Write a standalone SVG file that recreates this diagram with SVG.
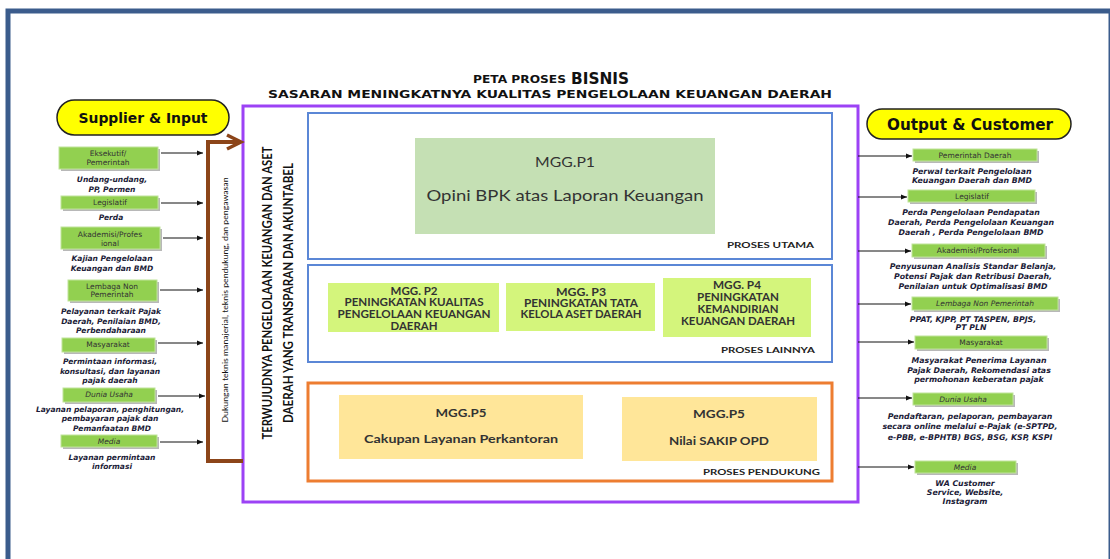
<svg xmlns="http://www.w3.org/2000/svg" width="1110" height="559" viewBox="0 0 1110 559">
<defs>
<style>
.t{font-family:"DejaVu Sans","Liberation Sans",sans-serif;text-anchor:middle;dominant-baseline:central}
.lbl{font-size:7.5px;fill:#333}
.it{font-style:italic}
.desc{font-size:7.5px;font-weight:bold;font-style:italic;fill:#1c1c38}
.descr{font-size:7.8px;font-weight:bold;font-style:italic;fill:#1c1c38}
.c{font-family:Lato,"Open Sans",sans-serif;text-anchor:middle;dominant-baseline:central;fill:#333}
.cap{font-size:10.5px;font-weight:bold}
.ps{font-size:8px;font-weight:bold;fill:#222;text-anchor:end}
.gb{fill:#92d050;stroke:#bfe39a;stroke-width:1}
.sh{fill:#9a9a9a;opacity:0.7}
.yl{fill:#ffff00;stroke:#222;stroke-width:1.5}
.conn{stroke:#111;stroke-width:1;fill:none;marker-end:url(#ah)}
</style>
<marker id="ah" markerWidth="6" markerHeight="6" refX="6" refY="3" orient="auto" markerUnits="userSpaceOnUse">
<path d="M0,0.5 L6,3 L0,5.5 z" fill="#111"/>
</marker>
</defs>
<rect width="1110" height="559" fill="#fff"/>
<rect x="8" y="11" width="1103" height="570" fill="none" stroke="#3b5c8c" stroke-width="5"/>

<g id="title">
<text x="551" y="79" class="t" style="font-weight:bold;fill:#111"><tspan font-size="10" textLength="93" lengthAdjust="spacingAndGlyphs">PETA PROSES</tspan><tspan dx="5" font-size="15" textLength="58" lengthAdjust="spacingAndGlyphs">BISNIS</tspan></text>
<text x="550" y="94" class="t" style="font-weight:bold;font-size:11px;fill:#111" textLength="564" lengthAdjust="spacingAndGlyphs">SASARAN MENINGKATNYA  KUALITAS  PENGELOLAAN  KEUANGAN DAERAH</text>
</g>

<g id="supplier-input">
<rect x="57" y="100" width="172" height="35" rx="17.5" class="yl"/>
<text x="143" y="118" class="t" style="font-weight:bold;font-size:14px;fill:#111" textLength="129" lengthAdjust="spacingAndGlyphs">Supplier &amp; Input</text>
</g>
<g id="output-customer">
<rect x="867" y="109" width="204" height="30" rx="15" class="yl"/>
<text x="970" y="124" class="t" style="font-weight:bold;font-size:16px;fill:#111" textLength="166" lengthAdjust="spacingAndGlyphs">Output &amp; Customer</text>
</g>

<g id="main-frame">
<rect x="243" y="106" width="615" height="396" fill="#fff" stroke="#9c42f5" stroke-width="3"/>
<text class="c" transform="translate(266,293) rotate(-90)" style="font-weight:bold;font-size:14px;fill:#111" textLength="293" lengthAdjust="spacingAndGlyphs">TERWUJUDNYA PENGELOLAAN KEUANGAN DAN ASET</text>
<text class="c" transform="translate(287,293) rotate(-90)" style="font-weight:bold;font-size:14px;fill:#111" textLength="260" lengthAdjust="spacingAndGlyphs">DAERAH YANG TRANSPARAN DAN AKUNTABEL</text>
</g>

<g id="support-bracket">
<path d="M243,461 L208,461 L208,142 L240,142" fill="none" stroke="#8c4519" stroke-width="4"/>
<polyline points="227,135 241,142 227,149" fill="none" stroke="#8c4519" stroke-width="3.5"/>
<text class="c" transform="translate(225,300) rotate(-90)" style="font-size:7.5px;fill:#111" textLength="245" lengthAdjust="spacingAndGlyphs">Dukungan teknis manajerial, teknis pendukung, dan pengawasan</text>
</g>

<g id="proses-utama">
<rect x="308" y="113" width="524" height="146" fill="none" stroke="#5b87d6" stroke-width="2"/>
<text x="814" y="245" class="c ps" textLength="87" lengthAdjust="spacingAndGlyphs">PROSES UTAMA</text>
</g>
<g id="mgg-p1">
<rect x="415" y="138" width="300" height="96" fill="#c5e0b4"/>
<text x="565" y="161" class="c" style="font-size:14px" textLength="60" lengthAdjust="spacingAndGlyphs">MGG.P1</text>
<text x="565" y="194" class="c" style="font-size:16px" textLength="277" lengthAdjust="spacingAndGlyphs">Opini BPK atas Laporan Keuangan</text>
</g>

<g id="proses-lainnya">
<rect x="308" y="265" width="524" height="97" fill="none" stroke="#5b87d6" stroke-width="2"/>
<text x="815" y="350" class="c ps" textLength="94" lengthAdjust="spacingAndGlyphs">PROSES LAINNYA</text>
</g>
<g id="mgg-p2">
<rect x="328" y="283" width="171" height="49" fill="#d4f57c"/>
<text x="414" y="291" class="c cap" textLength="47" lengthAdjust="spacingAndGlyphs">MGG. P2</text>
<text x="414" y="302" class="c cap" textLength="139" lengthAdjust="spacingAndGlyphs">PENINGKATAN  KUALITAS</text>
<text x="414" y="314" class="c cap" textLength="153" lengthAdjust="spacingAndGlyphs">PENGELOLAAN  KEUANGAN</text>
<text x="414" y="326" class="c cap" textLength="47" lengthAdjust="spacingAndGlyphs">DAERAH</text>
</g>
<g id="mgg-p3">
<rect x="506" y="283" width="149" height="48" fill="#d4f57c"/>
<text x="581" y="292" class="c cap" textLength="50" lengthAdjust="spacingAndGlyphs">MGG. P3</text>
<text x="581" y="303" class="c cap" textLength="114" lengthAdjust="spacingAndGlyphs">PENINGKATAN TATA</text>
<text x="581" y="314" class="c cap" textLength="121" lengthAdjust="spacingAndGlyphs">KELOLA ASET DAERAH</text>
</g>
<g id="mgg-p4">
<rect x="663" y="278" width="148" height="59" fill="#d4f57c"/>
<text x="737" y="285" class="c cap" textLength="48" lengthAdjust="spacingAndGlyphs">MGG. P4</text>
<text x="738" y="297" class="c cap" textLength="82" lengthAdjust="spacingAndGlyphs">PENINGKATAN</text>
<text x="738" y="309" class="c cap" textLength="81" lengthAdjust="spacingAndGlyphs">KEMANDIRIAN</text>
<text x="738" y="321" class="c cap" textLength="114" lengthAdjust="spacingAndGlyphs">KEUANGAN DAERAH</text>
</g>

<g id="proses-pendukung">
<rect x="308" y="383" width="524" height="98" fill="none" stroke="#ed7d31" stroke-width="3"/>
<text x="820" y="472" class="c ps" textLength="117" lengthAdjust="spacingAndGlyphs">PROSES PENDUKUNG</text>
</g>
<g id="mgg-p5a">
<rect x="339" y="395" width="244" height="64" fill="#ffe699"/>
<text x="461" y="412" class="c" style="font-size:12px;font-weight:bold" textLength="51" lengthAdjust="spacingAndGlyphs">MGG.P5</text>
<text x="461" y="438" class="c" style="font-size:12px;font-weight:bold" textLength="194" lengthAdjust="spacingAndGlyphs">Cakupan Layanan Perkantoran</text>
</g>
<g id="mgg-p5b">
<rect x="622" y="397" width="195" height="64" fill="#ffe699"/>
<text x="719" y="413" class="c" style="font-size:12px;font-weight:bold" textLength="52" lengthAdjust="spacingAndGlyphs">MGG.P5</text>
<text x="719" y="440" class="c" style="font-size:12px;font-weight:bold" textLength="100" lengthAdjust="spacingAndGlyphs">Nilai SAKIP OPD</text>
</g>

<!-- Left inputs -->
<g id="in-eksekutif">
<rect x="61" y="149" width="99" height="22" class="sh"/>
<rect x="59" y="147" width="99" height="22" class="gb"/>
<text x="108" y="153" class="t lbl">Eksekutif/</text>
<text x="108" y="162" class="t lbl">Pemerintah</text>
<text x="112" y="179" class="t desc">Undang-undang,</text>
<text x="112" y="189" class="t desc">PP, Permen</text>
</g>
<g id="in-legislatif">
<rect x="63" y="198" width="97" height="13" class="sh"/>
<rect x="61" y="196" width="97" height="13" class="gb"/>
<text x="110" y="202.5" class="t lbl">Legislatif</text>
<text x="111" y="217" class="t desc">Perda</text>
</g>
<g id="in-akademisi">
<rect x="63" y="229" width="99" height="22" class="sh"/>
<rect x="61" y="227" width="99" height="22" class="gb"/>
<text x="110" y="234" class="t lbl">Akademisi/Profes</text>
<text x="110" y="243" class="t lbl">ional</text>
<text x="112" y="258" class="t desc">Kajian Pengelolaan</text>
<text x="112" y="268" class="t desc">Keuangan dan BMD</text>
</g>
<g id="in-lembaga">
<rect x="70" y="282" width="89" height="21" class="sh"/>
<rect x="68" y="280" width="89" height="21" class="gb"/>
<text x="112" y="286" class="t lbl">Lembaga Non</text>
<text x="112" y="294.5" class="t lbl">Pemerintah</text>
<text x="111" y="311" class="t desc">Pelayanan terkait Pajak</text>
<text x="111" y="321" class="t desc">Daerah, Penilaian BMD,</text>
<text x="111" y="330" class="t desc">Perbendaharaan</text>
</g>
<g id="in-masyarakat">
<rect x="64" y="340" width="93" height="14" class="sh"/>
<rect x="62" y="338" width="93" height="14" class="gb"/>
<text x="108" y="344.5" class="t lbl">Masyarakat</text>
<text x="110" y="361" class="t desc">Permintaan  informasi,</text>
<text x="110" y="371" class="t desc">konsultasi, dan layanan</text>
<text x="110" y="380" class="t desc">pajak daerah</text>
</g>
<g id="in-dunia-usaha">
<rect x="65" y="390" width="92" height="14" class="sh"/>
<rect x="63" y="388" width="92" height="14" class="gb"/>
<text x="109" y="394.5" class="t lbl it">Dunia Usaha</text>
<text x="110" y="409" class="t desc">Layanan pelaporan, penghitungan,</text>
<text x="110" y="418" class="t desc">pembayaran pajak dan</text>
<text x="112" y="428" class="t desc">Pemanfaatan BMD</text>
</g>
<g id="in-media">
<rect x="63" y="437" width="96" height="12" class="sh"/>
<rect x="61" y="435" width="96" height="12" class="gb"/>
<text x="109" y="441" class="t lbl it">Media</text>
<text x="112" y="457" class="t desc">Layanan permintaan</text>
<text x="112" y="466" class="t desc">informasi</text>
</g>

<!-- Right outputs -->
<g id="out-pemda">
<rect x="915" y="151" width="124" height="12" class="sh"/>
<rect x="913" y="149" width="124" height="12" class="gb"/>
<text x="975" y="155" class="t lbl">Pemerintah Daerah</text>
<text x="972" y="171" class="t descr">Perwal terkait Pengelolaan</text>
<text x="972" y="180" class="t descr">Keuangan Daerah dan BMD</text>
</g>
<g id="out-legislatif">
<rect x="910" y="192" width="127" height="12" class="sh"/>
<rect x="908" y="190" width="127" height="12" class="gb"/>
<text x="972" y="196" class="t lbl">Legislatif</text>
<text x="971" y="212" class="t descr">Perda Pengelolaan Pendapatan</text>
<text x="971" y="222" class="t descr">Daerah, Perda Pengelolaan Keuangan</text>
<text x="971" y="232" class="t descr">Daerah , Perda Pengelolaan BMD</text>
</g>
<g id="out-akademisi">
<rect x="914" y="246" width="133" height="13" class="sh"/>
<rect x="912" y="244" width="133" height="13" class="gb"/>
<text x="978" y="250.5" class="t lbl">Akademisi/Profesional</text>
<text x="973" y="266" class="t descr">Penyusunan Analisis Standar Belanja,</text>
<text x="973" y="276" class="t descr">Potensi Pajak dan Retribusi Daerah,</text>
<text x="973" y="286" class="t descr">Penilaian untuk Optimalisasi BMD</text>
</g>
<g id="out-lembaga">
<rect x="914" y="299" width="146" height="13" class="sh"/>
<rect x="912" y="297" width="146" height="13" class="gb"/>
<text x="985" y="303.5" class="t lbl it">Lembaga Non Pemerintah</text>
<text x="973" y="319" class="t descr">PPAT, KJPP, PT TASPEN, BPJS,</text>
<text x="971" y="327" class="t descr">PT PLN</text>
</g>
<g id="out-masyarakat">
<rect x="917" y="338" width="132" height="13" class="sh"/>
<rect x="915" y="336" width="132" height="13" class="gb"/>
<text x="981" y="342.5" class="t lbl">Masyarakat</text>
<text x="979" y="360" class="t descr">Masyarakat Penerima Layanan</text>
<text x="979" y="370" class="t descr">Pajak Daerah, Rekomendasi atas</text>
<text x="979" y="379" class="t descr">permohonan keberatan pajak</text>
</g>
<g id="out-dunia-usaha">
<rect x="915" y="395" width="100" height="12" class="sh"/>
<rect x="913" y="393" width="100" height="12" class="gb"/>
<text x="963" y="399" class="t lbl it">Dunia Usaha</text>
<text x="970" y="416" class="t descr">Pendaftaran, pelaporan, pembayaran</text>
<text x="970" y="426" class="t descr">secara online melalui e-Pajak (e-SPTPD,</text>
<text x="970" y="437" class="t descr">e-PBB, e-BPHTB) BGS, BSG, KSP, KSPI</text>
</g>
<g id="out-media">
<rect x="917" y="463" width="101" height="12" class="sh"/>
<rect x="915" y="461" width="101" height="12" class="gb"/>
<text x="965" y="467" class="t lbl it">Media</text>
<text x="965" y="483" class="t descr">WA Customer</text>
<text x="965" y="492" class="t descr">Service, Website,</text>
<text x="965" y="501" class="t descr">Instagram</text>
</g>

<g id="connectors">
<line x1="161" y1="153" x2="203" y2="153" class="conn"/>
<line x1="161" y1="203" x2="203" y2="203" class="conn"/>
<line x1="163" y1="238" x2="203" y2="238" class="conn"/>
<line x1="160" y1="290" x2="203" y2="290" class="conn"/>
<line x1="158" y1="343" x2="203" y2="343" class="conn"/>
<line x1="158" y1="396" x2="205" y2="396" class="conn"/>
<line x1="160" y1="442" x2="203" y2="442" class="conn"/>
<line x1="858" y1="156" x2="912" y2="156" class="conn"/>
<line x1="858" y1="197" x2="907" y2="197" class="conn"/>
<line x1="858" y1="251" x2="911" y2="251" class="conn"/>
<line x1="858" y1="304" x2="911" y2="304" class="conn"/>
<line x1="858" y1="342" x2="914" y2="342" class="conn"/>
<line x1="858" y1="398" x2="912" y2="398" class="conn"/>
<line x1="858" y1="467" x2="914" y2="467" class="conn"/>
</g>
</svg>
